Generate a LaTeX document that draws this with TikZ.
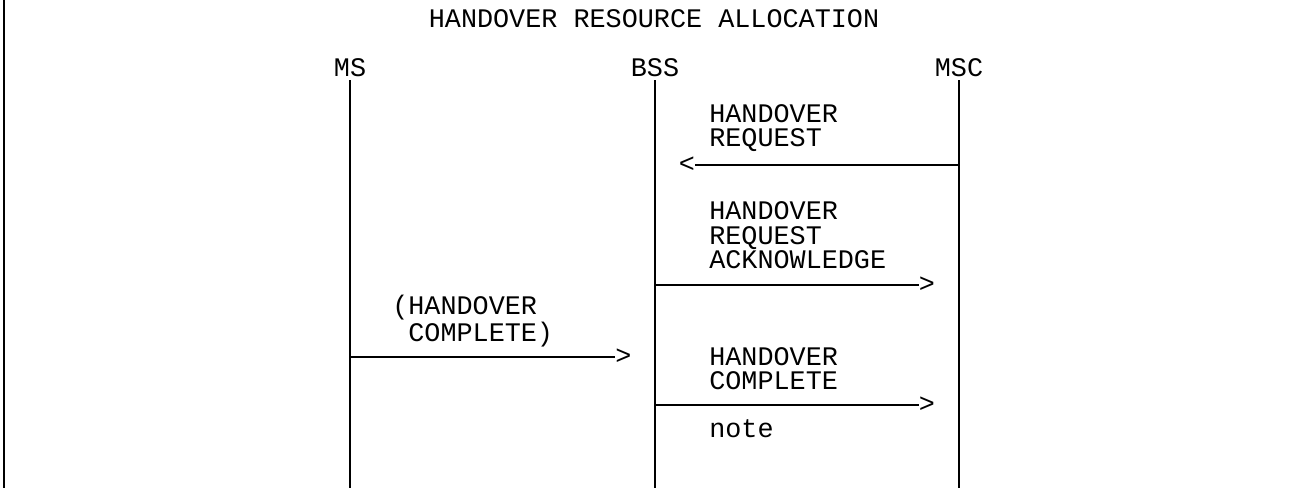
\documentclass[tikz,border=0pt]{standalone}
\usepackage{fontspec}
\usetikzlibrary{positioning}
\newfontfamily\telefont{Liberation Mono}
\tikzstyle{texto}=[font=\telefont\fontsize{20.1}{18}\selectfont, inner sep=0pt]
\tikzstyle{entity}=[texto, anchor=base]
\tikzstyle{msgtext}=[texto, align=left, anchor=base west]
\tikzstyle{head}=[texto, anchor=center]
\tikzstyle{lifeline}=[draw, line width=1.3pt, color=black]
\tikzstyle{signal}=[draw, line width=1.5pt, color=black]
\tikzstyle{frame}=[draw, line width=1.8pt, color=black]

\begin{document}
\begin{tikzpicture}[x=0.75pt,y=-0.75pt]
  \useasboundingbox (0,0) rectangle (1302,488);
  \coordinate (bottom) at (0,488);

  % frame on the left side
  \path [frame] (4,0) -- (4,488);

  % title and entities
  \node (TITLE) [entity] at (654,28) {HANDOVER RESOURCE ALLOCATION};
  \node (MS) [entity] at (350,77) {MS};
  \node (BSS) [entity] at (655,77) {BSS};
  \node (MSC) [entity] at (959,77) {MSC};

  % lifelines
  \path [lifeline] ([yshift=-2pt]MS.south) -- (MS |- bottom);
  \path [lifeline] ([yshift=-2pt]BSS.south) -- (BSS |- bottom);
  \path [lifeline] ([yshift=-2pt]MSC.south) -- (MSC |- bottom);

  % message levels
  \coordinate (REQ) at (0,165);
  \coordinate (ACK) at (0,285);
  \coordinate (MSCOMP) at (0,357);
  \coordinate (COMP) at (0,405);

  % HANDOVER REQUEST, MSC to BSS (base = last text line)
  \node (REQHEAD) [head] at (687,165) {<};
  \path [signal] (MSC |- REQ) -- (REQHEAD.east);
  \node (REQTEXT) [msgtext] at (709,147) {HANDOVER\\REQUEST};

  % HANDOVER REQUEST ACKNOWLEDGE, BSS to MSC
  \node (ACKHEAD) [head] at (927,285) {>};
  \path [signal] (BSS |- ACK) -- (ACKHEAD.west);
  \node (ACKTEXT) [msgtext] at (709,268) {HANDOVER\\REQUEST\\ACKNOWLEDGE};

  % (HANDOVER COMPLETE), MS to BSS
  \node (MSCOMPHEAD) [head] at (623.5,357) {>};
  \path [signal] (MS |- MSCOMP) -- (MSCOMPHEAD.west);
  \node (MSCOMPTEXT) [msgtext] at (392,341) {(HANDOVER\\\phantom{(}COMPLETE)};

  % HANDOVER COMPLETE, BSS to MSC
  \node (COMPHEAD) [head] at (927,405) {>};
  \path [signal] (BSS |- COMP) -- (COMPHEAD.west);
  \node (COMPTEXT) [msgtext] at (709,389) {HANDOVER\\COMPLETE};
  \node (NOTE) [msgtext] at (709,437) {note};

\end{tikzpicture}
\end{document}
